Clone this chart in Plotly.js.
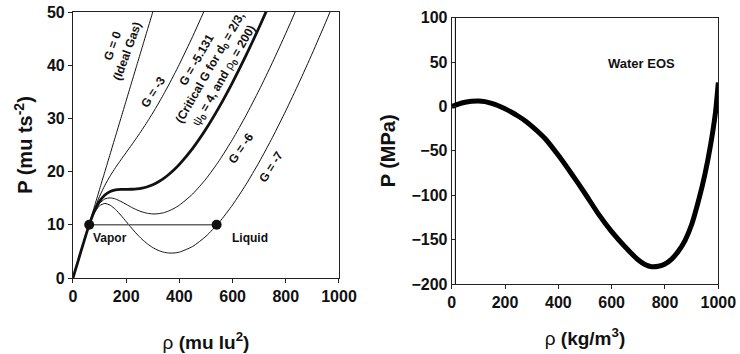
<!DOCTYPE html>
<html>
<head>
<meta charset="utf-8">
<script src="https://cdn.plot.ly/plotly-3.0.1.min.js"></script>
<style>html,body{margin:0;padding:0;background:#fff;}#chart{width:740px;height:354px;}</style>
</head>
<body>
<div id="chart"></div>
<script>
// ---- Left panel: Shan-Chen EOS curves ----
var rho = [0,20,40,60,80,100,120,140,160,180,200,220,240,260,280,300,320,340,360,380,400,450,500,550,600,650,700,750,800,850,900,950,1000];
var pIdeal = [0,3.33,6.67,10,13.33,16.67,20,23.33,26.67,30,33.33,36.67,40,43.33,46.67,50,53.33];
var pG3 = [0,3.33,6.66,9.91,12.85,15.35,17.43,19.20,20.76,22.20,23.59,24.98,26.40,27.88,29.41,31.02,32.70,34.46,36.30,38.20,40.18,45.40,50.98];
var pGcrit = [0,3.33,6.66,9.84,12.50,14.41,15.61,16.26,16.56,16.66,16.67,16.68,16.74,16.90,17.16,17.54,18.05,18.69,19.46,20.35,21.36,24.37,28.00,32.16,36.78,41.78,47.13,52.76];
var pG6 = [0,3.33,6.66,9.82,12.36,14.03,14.86,15.06,14.85,14.39,13.85,13.29,12.80,12.42,12.16,12.04,12.08,12.26,12.60,13.08,13.69,15.80,18.63,22.08,26.07,30.51,35.35,40.52,45.99,51.72];
var pG7 = [0,3.33,6.66,9.79,12.20,13.59,14.01,13.68,12.88,11.79,10.60,9.40,8.27,7.26,6.41,5.72,5.20,4.86,4.70,4.70,4.86,5.93,7.85,10.48,13.75,17.54,21.79,26.44,31.44,36.73,42.28,48.07,54.05];
var tieRho = [61, 540];
var tieP = [10, 10];

// ---- Right panel: water EOS ----
var waterRho = [0,25,50,75,100,125,150,175,200,225,250,275,300,350,400,450,500,550,600,650,700,725,750,775,800,825,850,875,900,925,950,970,990,1000];
var waterP = [0,2.8,4.8,5.9,6.3,5.5,3.5,0.8,-2.5,-6.5,-11,-16,-22,-36,-55,-76,-98,-121,-141,-158,-173,-178,-180.5,-180,-177.5,-172,-163,-151,-133,-107,-76,-45,-5,27];
var wallRho = [14, 14];
var wallP = [-200, 100];

var FONT = 'Arial, "Liberation Sans", sans-serif';

function thin(n, y, w) {
  return {x: rho.slice(0, n), y: y, xaxis: 'x', yaxis: 'y', mode: 'lines',
          line: {color: '#111', width: w, shape: 'spline', smoothing: 0.6}, hoverinfo: 'skip'};
}

var traces = [
  thin(pIdeal.length, pIdeal, 1),
  thin(pG3.length, pG3, 1),
  thin(pGcrit.length, pGcrit, 2.8),
  thin(pG6.length, pG6, 1),
  thin(pG7.length, pG7, 1),
  {x: tieRho, y: tieP, xaxis: 'x', yaxis: 'y', mode: 'lines+markers',
   line: {color: '#666', width: 1.6}, marker: {color: '#111', size: 10}},
  {x: wallRho, y: wallP, xaxis: 'x2', yaxis: 'y2', mode: 'lines',
   line: {color: '#111', width: 1.1}},
  {x: waterRho, y: waterP, xaxis: 'x2', yaxis: 'y2', mode: 'lines',
   line: {color: '#000', width: 5, shape: 'spline', smoothing: 0.5}}
];

var tickFont = {family: FONT, size: 16, color: '#111', weight: 'bold'};
var titleFont = {family: FONT, size: 19, color: '#111', weight: 'bold'};
var common = {showgrid: false, zeroline: false, showline: true, mirror: true,
              linecolor: '#222', linewidth: 1, tickcolor: '#222', ticklen: 4, tickwidth: 1,
              tickfont: tickFont, fixedrange: true};

var layout = {
  width: 740, height: 354,
  margin: {l: 0, r: 0, t: 0, b: 0},
  paper_bgcolor: '#fff', plot_bgcolor: '#fff',
  showlegend: false,
  xaxis: Object.assign({}, common, {domain: [0.0986, 0.4581], anchor: 'y', range: [0, 1000], dtick: 200, ticks: 'outside',
    title: {text: '<span style="font-weight:normal">ρ</span> (mu lu<sup>2</sup>)', font: titleFont, standoff: 31}}),
  yaxis: Object.assign({}, common, {domain: [0.2147, 0.9661], anchor: 'x', range: [0, 50], dtick: 10, ticks: 'outside',
    title: {text: 'P (mu ts<sup>-2</sup>)', font: Object.assign({}, titleFont, {size: 20}), standoff: 8}}),
  xaxis2: Object.assign({}, common, {domain: [0.6104, 0.9707], anchor: 'y2', range: [0, 1000], dtick: 200, ticks: 'outside',
    title: {text: '<span style="font-weight:normal">ρ</span> (kg/m<sup>3</sup>)', font: titleFont, standoff: 21}}),
  yaxis2: Object.assign({}, common, {domain: [0.1977, 0.9499], anchor: 'x2', range: [-200, 100], dtick: 50, ticks: 'inside',
    title: {text: 'P (MPa)', font: Object.assign({}, titleFont, {size: 20}), standoff: 10}}),
  annotations: [
    {xref: 'x', yref: 'y', x: 177, y: 43, text: 'G = 0<br>(Ideal Gas)', textangle: -70, showarrow: false,
     font: {family: FONT, size: 12, color: '#111', weight: 'bold'}},
    {xref: 'x', yref: 'y', x: 301, y: 35, text: 'G = -3', textangle: -57, showarrow: false,
     font: {family: FONT, size: 12, color: '#111', weight: 'bold'}},
    {xref: 'x', yref: 'y', x: 520, y: 39.5,
     text: 'G = -5.131<br>(Critical G for d<sub>0</sub> = 2/3,<br><span style="font-weight:normal">ψ</span><sub>0</sub> = 4, and <span style="font-weight:normal">ρ</span><sub>0</sub> = 200)',
     textangle: -60, showarrow: false, font: {family: FONT, size: 12, color: '#111', weight: 'bold'}},
    {xref: 'x', yref: 'y', x: 632, y: 24.4, text: 'G = -6', textangle: -55, showarrow: false,
     font: {family: FONT, size: 12, color: '#111', weight: 'bold'}},
    {xref: 'x', yref: 'y', x: 744, y: 20.9, text: 'G = -7', textangle: -58, showarrow: false,
     font: {family: FONT, size: 12, color: '#111', weight: 'bold'}},
    {xref: 'x', yref: 'y', x: 139, y: 7.5, text: 'Vapor', showarrow: false,
     font: {family: FONT, size: 12, color: '#111', weight: 'bold'}},
    {xref: 'x', yref: 'y', x: 665, y: 7.5, text: 'Liquid', showarrow: false,
     font: {family: FONT, size: 12, color: '#111', weight: 'bold'}},
    {xref: 'x2', yref: 'y2', x: 712, y: 47.9, text: 'Water EOS', showarrow: false,
     font: {family: FONT, size: 13, color: '#111', weight: 'bold'}}
  ]
};

Plotly.newPlot('chart', traces, layout, {staticPlot: true, displayModeBar: false});
</script>
</body>
</html>
